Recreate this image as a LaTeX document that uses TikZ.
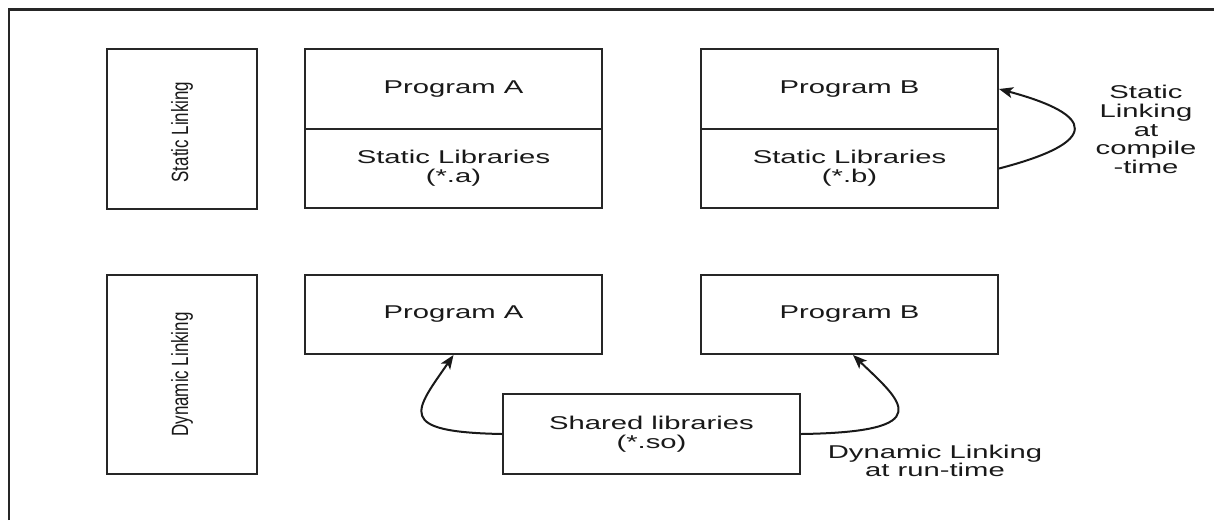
\documentclass[tikz,border=0pt]{standalone}
\usepackage{fontspec}
\setmainfont{Liberation Sans}
\newfontfamily\widef[FakeStretch=1.58]{Liberation Sans}
\newfontfamily\narrowf[FakeStretch=0.72]{Liberation Sans}
\usetikzlibrary{arrows.meta}
\begin{document}
\begin{tikzpicture}[x=1pt,y=-1pt,
  lbl/.style={font=\widef\fontsize{18.5}{18.75}\selectfont, align=center, text=black!90},
  box/.style={draw=black!85, line width=2pt, inner sep=0pt, minimum width=297pt, lbl},
  sidebox/.style={draw=black!85, line width=2pt, inner sep=0pt, minimum width=150pt},
  sidetext/.style={font=\narrowf\fontsize{23.5}{24}\selectfont, text=black!90, rotate=90, inner sep=0pt},
  link/.style={draw=black!90, line width=2pt, -{Stealth[length=14pt,width=11pt,inset=3.5pt]}}
  ]
  \useasboundingbox (0,0) rectangle (1214,520);
  \fill[white] (0,0) rectangle (1214,520);
  % frame (top and left edges only visible)
  \coordinate (fbl) at (9,520);
  \coordinate (ftl) at (9,9.5);
  \coordinate (ftr) at (1214,9.5);
  \draw[line width=2.8pt, black!85] (fbl) -- (ftl) -- (ftr);

  % side labels
  \node[sidebox, minimum height=160pt] (sl) at (182,129) {};
  \node[sidetext] (slt) at ([yshift=-3pt]sl.center) {Static Linking};
  \node[sidebox, minimum height=199pt] (dl) at (182,374.5) {};
  \node[sidetext] (dlt) at (dl.center) {Dynamic Linking};

  % static linking
  \node[box, minimum height=80pt] (paTop) at (453.5,89) {Program A};
  \node[box, minimum height=79pt] (paLib) at (453.5,168.5) {Static Libraries\\(*.a)};
  \node[box, minimum height=80pt] (pbTop) at (849.5,89) {Program B};
  \node[box, minimum height=79pt] (pbLib) at (849.5,168.5) {Static Libraries\\(*.b)};

  % dynamic linking
  \node[box, minimum height=79pt] (paLow) at (453.5,314.5) {Program A};
  \node[box, minimum height=79pt] (pbLow) at (849.5,314.5) {Program B};
  \node[box, minimum height=80pt] (shared) at (651.5,434) {Shared libraries\\(*.so)};

  % labels
  \node[lbl] (slab) at (1146,129.5) {Static\\Linking\\at\\compile\\-time};
  \node[lbl] (dlab) at (935,461) {Dynamic Linking\\at run-time};

  % connectors
  \draw[link] (pbLib.east) .. controls +(102,-26.5) and +(97,26) .. (pbTop.east);
  \draw[link] (shared.west) .. controls +(-108,-2) and +(-38.5,56) .. (paLow.south);
  \draw[link] (shared.east) .. controls +(140,-2) and +(48,46) .. ([xshift=3.5pt]pbLow.south);
\end{tikzpicture}
\end{document}
